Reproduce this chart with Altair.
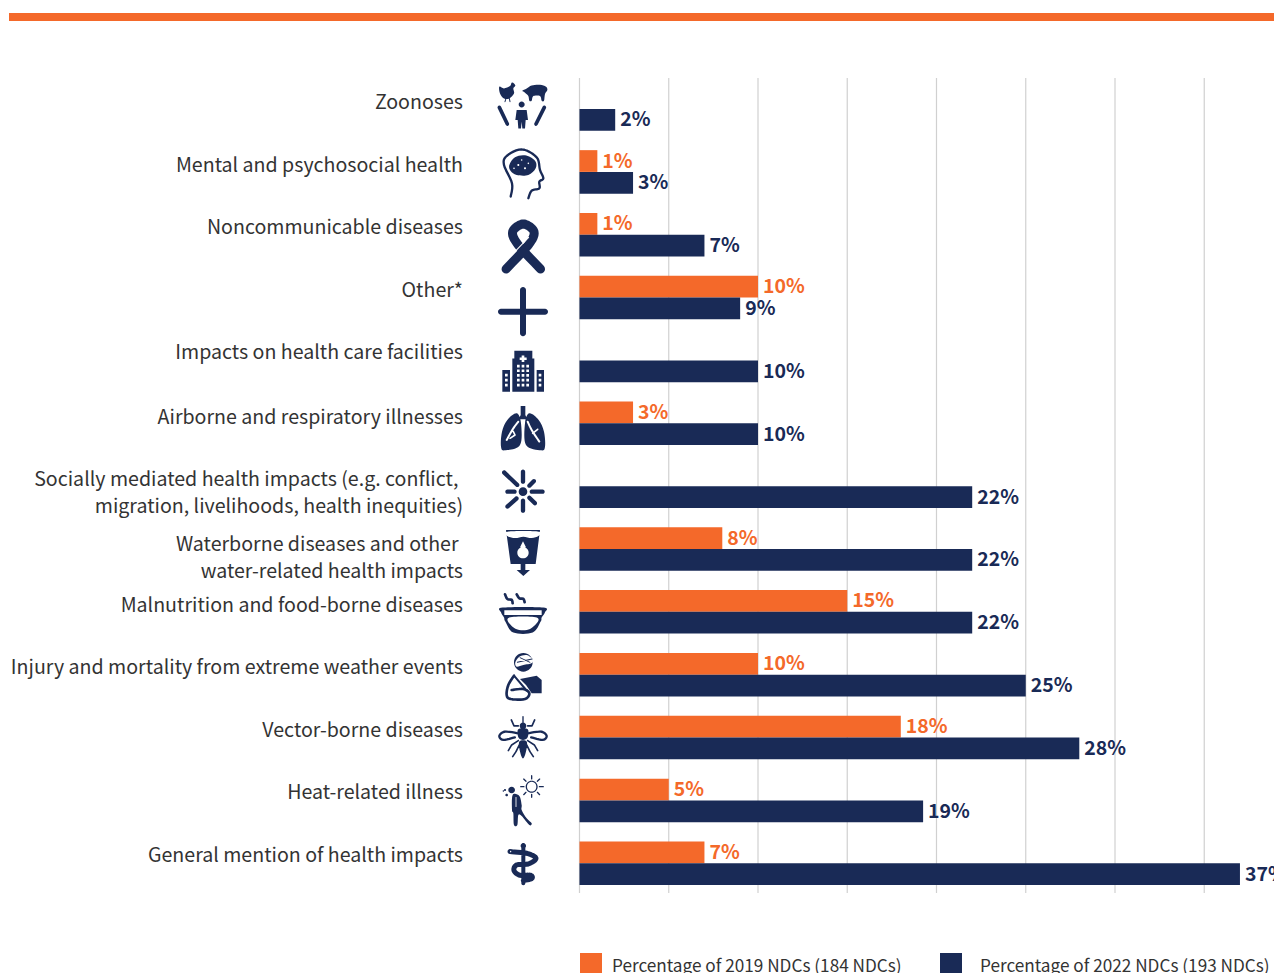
import math
import altair as alt
import pandas as pd

CATEGORIES = [
    "Zoonoses", "Mental and psychosocial health", "Noncommunicable diseases", "Other*",
    "Impacts on health care facilities", "Airborne and respiratory illnesses",
    "Socially mediated health impacts", "Waterborne diseases", "Malnutrition and food-borne diseases",
    "Injury and mortality from extreme weather events", "Vector-borne diseases",
    "Heat-related illness", "General mention of health impacts",
]
LABELS = [
    "Zoonoses", "Mental and psychosocial health", "Noncommunicable diseases", "Other*",
    "Impacts on health care facilities", "Airborne and respiratory illnesses",
    "Socially mediated health impacts (e.g. conflict,\nmigration, livelihoods, health inequities)",
    "Waterborne diseases and other\nwater-related health impacts",
    "Malnutrition and food-borne diseases",
    "Injury and mortality from extreme weather events", "Vector-borne diseases",
    "Heat-related illness", "General mention of health impacts",
]
SERIES = ["Percentage of 2019 NDCs (184 NDCs)", "Percentage of 2022 NDCs (193 NDCs)"]
VALUES_2019 = [None, 1, 1, 10, None, 3, None, 8, 15, 10, 18, 5, 7]
VALUES_2022 = [2, 3, 7, 9, 10, 10, 22, 22, 22, 25, 28, 19.25, 37]
GRID_TICKS = [0, 5, 10, 15, 20, 25, 30, 35]
LABEL_NUDGE = [21.7, 21.85, 21, 21.15, 20.3, 22.45, 21.6, 23.75, 21.9, 21.05, 21.2, 20.35, 20.5]
LEGEND_CHIP_X = [591, 951]
LEGEND_TEXT_X = [612, 980]

ORANGE = "#F4692A"
NAVY = "#192A56"
FONT = "Noto Sans CJK SC"


class Glyph:
    """Builds an icon outline. Points are given in a 3x picture grid."""

    def __init__(self, oy, top):
        self.off = oy - top
        self.parts = []

    def p(self, pt):
        return (pt[0] / 3 - 33, pt[1] / 3 + self.off)

    def circle(self, x, y, r):
        x, y = self.p((x, y))
        r = r / 3
        self.parts.append(f"M{x-r:.2f},{y:.2f}A{r:.2f},{r:.2f} 0 1 0 {x+r:.2f},{y:.2f}A{r:.2f},{r:.2f} 0 1 0 {x-r:.2f},{y:.2f}Z")
        return self

    def _cap(self, a, b, r):
        dx, dy = b[0] - a[0], b[1] - a[1]
        ln = math.hypot(dx, dy) or 1
        nx, ny = -dy / ln * r, dx / ln * r
        self.parts.append(
            f"M{a[0]+nx:.2f},{a[1]+ny:.2f}L{b[0]+nx:.2f},{b[1]+ny:.2f}"
            f"A{r:.2f},{r:.2f} 0 0 0 {b[0]-nx:.2f},{b[1]-ny:.2f}"
            f"L{a[0]-nx:.2f},{a[1]-ny:.2f}A{r:.2f},{r:.2f} 0 0 0 {a[0]+nx:.2f},{a[1]+ny:.2f}Z"
        )

    def line(self, pts, w, smooth=True):
        q = [self.p(t) for t in pts]
        r = w / 6
        if smooth and len(q) > 2:
            dense = []
            ext = [q[0]] + q + [q[-1]]
            for i in range(1, len(ext) - 2):
                p0, p1, p2, p3 = ext[i - 1], ext[i], ext[i + 1], ext[i + 2]
                for k in range(6):
                    t = k / 6
                    dense.append(tuple(
                        0.5 * (2 * p1[j] + (p2[j] - p0[j]) * t
                               + (2 * p0[j] - 5 * p1[j] + 4 * p2[j] - p3[j]) * t * t
                               + (3 * p1[j] - p0[j] - 3 * p2[j] + p3[j]) * t ** 3)
                        for j in (0, 1)))
            dense.append(q[-1])
            q = dense
        for a, b in zip(q, q[1:]):
            self._cap(a, b, r)
        return self

    def _ccw(self, q):
        area = sum(a[0] * b[1] - b[0] * a[1] for a, b in zip(q, q[1:] + q[:1]))
        return q[::-1] if area > 0 else q

    def poly(self, pts):
        q = self._ccw([self.p(t) for t in pts])
        self.parts.append("M" + "L".join(f"{x:.2f},{y:.2f}" for x, y in q) + "Z")
        return self

    def blob(self, pts):
        q = self._ccw([self.p(t) for t in pts])
        n = len(q)
        d = f"M{q[0][0]:.2f},{q[0][1]:.2f}"
        for i in range(n):
            p0, p1, p2, p3 = q[i - 1], q[i], q[(i + 1) % n], q[(i + 2) % n]
            c1 = (p1[0] + (p2[0] - p0[0]) / 6, p1[1] + (p2[1] - p0[1]) / 6)
            c2 = (p2[0] - (p3[0] - p1[0]) / 6, p2[1] - (p3[1] - p1[1]) / 6)
            d += f"C{c1[0]:.2f},{c1[1]:.2f} {c2[0]:.2f},{c2[1]:.2f} {p2[0]:.2f},{p2[1]:.2f}"
        self.parts.append(d + "Z")
        return self

    def rect(self, x0, y0, x1, y1):
        return self.poly([(x0, y0), (x1, y0), (x1, y1), (x0, y1)])

    def __str__(self):
        return "".join(self.parts) or "M0,0Z"


def mirror(pts, c=99):
    return [(2 * c - x, y) for x, y in pts]


# Rows: oy is the top of the 3x picture grid, top is the row's middle as drawn.
zoo = (Glyph(70, 109)
       .blob([(28, 50), (42, 55), (60, 48), (65, 38), (72, 40), (76, 47), (70, 55), (72, 70), (58, 85), (42, 85), (30, 70)])
       .line([(48, 85), (45, 95)], 3, False).line([(58, 85), (60, 95)], 3, False)
       .blob([(97, 62), (110, 55), (125, 46), (150, 44), (168, 50), (172, 60), (165, 72), (162, 92), (155, 92), (150, 78),
              (130, 78), (125, 92), (118, 92), (115, 78), (105, 68)])
       .circle(95, 103, 9)
       .poly([(80, 120), (110, 120), (114, 150), (107, 150), (105, 175), (97, 175), (95, 155), (93, 175), (85, 175), (83, 150), (76, 150)])
       .line([(28, 112), (52, 162)], 11, False).line([(163, 112), (138, 162)], 11, False))
head = (Glyph(70, 171.9)
        .line([(62, 380), (66, 340), (42, 285), (50, 258), (95, 238), (140, 262), (150, 300), (160, 325), (148, 335),
               (148, 355), (125, 362), (115, 385)], 7)
        .blob([(58, 285), (75, 262), (105, 256), (135, 272), (137, 295), (115, 315), (80, 315), (62, 303)]))
head_w = (Glyph(70, 171.9).circle(85, 285, 3).circle(105, 295, 3).circle(72, 295, 2.5).circle(115, 280, 2.5).circle(95, 270, 2.5))
ribbon = Glyph(70, 234.7).line([(48, 597), (115, 525), (132, 485), (100, 462), (68, 485), (85, 525), (152, 597)], 27)
ribbon_w = Glyph(70, 234.7).line([(72, 548), (116, 502)], 3, False)
plus = Glyph(70, 297.6).line([(99, 660), (99, 790)], 18, False).line([(33, 725), (165, 725)], 18, False)

hosp = Glyph(340, 360.4).rect(67, 55, 133, 155).rect(73, 32, 127, 55).rect(37, 90, 60, 155).rect(140, 90, 162, 155)
hosp_w = Glyph(340, 360.4).rect(95, 46, 103, 66).rect(89, 52, 110, 60)
for wy in (78, 92, 106, 120, 135):
    for wx in (85, 99, 113):
        hosp_w.rect(wx - 4, wy - 4, wx + 4, wy + 4)
for wy in (105, 120, 135):
    for wx in (49, 150):
        hosp_w.rect(wx - 4, wy - 4, wx + 4, wy + 4)
lung_l = [(80, 220), (52, 240), (36, 275), (33, 320), (45, 331), (90, 315), (93, 250)]
lungs = (Glyph(340, 423.3).blob(lung_l).blob(mirror(lung_l))
         .poly([(92, 198), (106, 198), (106, 225), (112, 238), (86, 238), (92, 225)]))
lungs_w = (Glyph(340, 423.3).line([(85, 245), (70, 265), (50, 300)], 6).line([(70, 275), (75, 285), (60, 295)], 5, False)
           .line([(113, 245), (125, 270), (148, 305)], 6).line([(128, 280), (143, 268)], 5, False))
burst = (Glyph(340, 486.15).circle(99, 455, 13)
         .line([(42, 397), (82, 435)], 13, False).line([(99, 395), (99, 425)], 13, False)
         .line([(118, 437), (132, 423)], 13, False).line([(52, 455), (74, 455)], 13, False)
         .line([(125, 455), (158, 455)], 13, False).line([(52, 500), (80, 475)], 13, False)
         .line([(99, 482), (99, 512)], 13, False).line([(118, 473), (135, 490)], 13, False))
water = (Glyph(340, 549).poly([(48, 570), (150, 570), (137, 672), (62, 672)])
         .rect(92, 672, 106, 692).poly([(80, 690), (120, 690), (100, 708)]))
water_w = (Glyph(340, 549).blob([(53, 575), (146, 575), (145, 588), (125, 594), (100, 590), (75, 594), (52, 588)])
           .poly([(99, 604), (108, 622), (90, 622)]).circle(99, 638, 17))

bowl = (Glyph(585, 611.9).line([(45, 28), (52, 42), (65, 45), (68, 55)], 8).line([(80, 28), (88, 40), (100, 42), (104, 52)], 8)
        .blob([(38, 68), (160, 68), (165, 82), (155, 98), (152, 110), (128, 143), (70, 143), (46, 110), (42, 98), (33, 82)]))
bowl_w = (Glyph(585, 611.9).rect(43, 76, 155, 90)
          .blob([(55, 99), (143, 99), (120, 132), (78, 132)]))
hurt = (Glyph(585, 674.7).circle(100, 232, 28)
        .poly([(90, 282), (140, 272), (155, 285), (155, 325), (125, 325), (108, 300)])
        .line([(72, 272), (55, 300), (50, 330), (62, 342), (105, 342), (118, 325), (100, 312), (65, 315)], 8)
        .line([(72, 272), (106, 312)], 6, False))
hurt_w = Glyph(585, 674.7).blob([(76, 232), (88, 215), (110, 210), (127, 222), (126, 234), (100, 240), (80, 245)])
hurt_top = Glyph(585, 674.7).line([(82, 232), (126, 222)], 3, False).line([(90, 218), (120, 232)], 2.5, False)
wing = [(85, 70), (45, 65), (28, 78), (40, 90), (75, 82)]
leg_sets = [[(85, 48), (72, 48), (64, 30)], [(85, 92), (65, 105), (55, 122)], [(88, 105), (78, 125), (68, 140)]]
mosq = (Glyph(710, 737.6).circle(99, 48, 10).line([(99, 20), (99, 40)], 4, False)
        .blob([(85, 58), (113, 58), (113, 82), (99, 90), (85, 82)])
        .blob([(88, 95), (110, 95), (108, 125), (99, 146), (90, 125)])
        .line(wing, 7).line(mirror(wing), 7))
for leg in leg_sets:
    mosq.line(leg, 5, False).line(mirror(leg), 5, False)
heat = (Glyph(710, 800.4).circle(125, 230, 18).circle(65, 240, 10)
        .blob([(68, 255), (88, 258), (95, 285), (95, 300), (110, 325), (125, 340), (118, 345), (95, 318), (85, 315),
               (82, 345), (72, 345), (70, 310), (66, 300)])
        .circle(45, 240, 3).circle(50, 255, 4).circle(40, 243, 2))
for a, b in [((125, 197), (125, 207)), ((125, 253), (125, 262)), ((92, 230), (102, 230)), ((148, 230), (160, 230)),
             ((101, 207), (108, 214)), ((142, 247), (149, 254)), ((149, 207), (142, 214)), ((101, 254), (108, 247))]:
    heat.line([a, b], 4, False)
heat_w = Glyph(710, 800.4).circle(125, 230, 14).line([(78, 262), (78, 290)], 2.5, False)
snake = (Glyph(640, 863.3).circle(100, 618, 8).line([(100, 620), (100, 730)], 12, False)
         .line([(60, 635), (110, 640), (138, 655), (115, 672), (80, 675), (72, 692), (90, 706), (122, 706), (125, 716), (100, 722)], 15))
snake_w = Glyph(640, 863.3).circle(62, 635, 2)
none = Glyph(0, 0)

ICON_INK = [zoo, head, ribbon, plus, hosp, lungs, burst, water, bowl, hurt, mosq, heat, snake]
ICON_HOLES = [none, head_w, ribbon_w, none, hosp_w, lungs_w, none, water_w, bowl_w, hurt_w, none, heat_w, snake_w]
ICON_TOP = [none, none, none, none, none, none, none, none, none, hurt_top, none, none, none]

# The page fits the drawing into 1266px, so the plot stops there
LEFT = 571.5
ORIGIN_X, ORIGIN_Y = 579.5, 78
W, H = 1266 - LEFT, 815
x_scale = alt.Scale(domain=[0, W / 17.85], nice=False, zero=False)
y_scale = alt.Scale(domain=CATEGORIES, range=[9.3, 807], paddingInner=0.308, paddingOuter=0)

rows = []
for c, a, b in zip(CATEGORIES, VALUES_2019, VALUES_2022):
    if a is not None:
        rows.append({"cat": c, "series": SERIES[0], "value": a, "txt": f"{round(a)}%"})
    rows.append({"cat": c, "series": SERIES[1], "value": b, "txt": f"{round(b)}%"})
bars_df = pd.DataFrame(rows)
cat_df = pd.DataFrame({"cat": CATEGORIES})

# A two-line label's first line stops short of the common right edge
flush, short = [], []
for c, label, nudge in zip(CATEGORIES, LABELS, LABEL_NUDGE):
    parts = label.split("\n")
    if len(parts) == 2:
        short.append({"cat": c, "label": parts[0], "nudge": nudge})
        flush.append({"cat": c, "label": parts[1], "nudge": nudge + 27})
    else:
        flush.append({"cat": c, "label": label, "nudge": nudge})

y_enc = alt.Y("cat:N", sort=CATEGORIES, scale=y_scale, axis=None)
y_off = alt.YOffset("series:N", sort=SERIES, scale=alt.Scale(domain=SERIES, paddingInner=0, paddingOuter=0))
color_scale = alt.Scale(domain=SERIES, range=[ORANGE, NAVY])

top_band = alt.Chart(pd.DataFrame({"k": [0]})).mark_rect(color=ORANGE).encode(
    x=alt.value(9 - ORIGIN_X), x2=alt.value(W), y=alt.value(13 - ORIGIN_Y), y2=alt.value(21 - ORIGIN_Y))

grid = alt.Chart(pd.DataFrame({"tick": GRID_TICKS})).mark_rule(color="#d0d0d0", strokeWidth=1.2).encode(
    x=alt.X("tick:Q", scale=x_scale, axis=None), y=alt.value(0), y2=alt.value(H))

bars = alt.Chart(bars_df).mark_bar(cornerRadius=0).encode(
    x=alt.X("value:Q", scale=x_scale, axis=None),
    y=y_enc, yOffset=y_off,
    color=alt.Color("series:N", scale=color_scale, legend=None),
)

value_text = alt.Chart(bars_df).mark_text(
    align="left", baseline="middle", dx=5, dy=0.5, font=FONT, fontSize=19.5, fontWeight=700
).encode(
    x=alt.X("value:Q", scale=x_scale, axis=None), y=y_enc, yOffset=y_off, text="txt:N",
    color=alt.Color("series:N", scale=color_scale, legend=None),
)


def label_layer(rows_, dx):
    return alt.Chart(pd.DataFrame(rows_)).mark_text(
        align="right", baseline="alphabetic", font=FONT, fontSize=19.6, color="#333333", dx=dx
    ).encode(
        x=alt.value(463 - ORIGIN_X), y=y_enc, yOffset=alt.YOffset("nudge:Q", scale=None), text="label:N",
    )


def icon_layer(paths, color):
    return alt.Chart(cat_df).mark_point(filled=True, opacity=1, color=color, strokeWidth=0).encode(
        x=alt.value(-56.5), y=y_enc, size=alt.value(4),
        shape=alt.Shape("cat:N", scale=alt.Scale(domain=CATEGORIES, range=[str(g) for g in paths]), legend=None),
    )


key_layers = []
for name, chip_x, text_x in zip(SERIES, LEGEND_CHIP_X, LEGEND_TEXT_X):
    one = pd.DataFrame({"series": [name]})
    key_layers.append(alt.Chart(one).mark_square(size=484, opacity=1, strokeWidth=0).encode(
        x=alt.value(chip_x - ORIGIN_X), y=alt.value(964 - ORIGIN_Y),
        color=alt.Color("series:N", scale=color_scale, legend=None)))
    key_layers.append(alt.Chart(one).mark_text(
        align="left", baseline="alphabetic", font=FONT, fontSize=17.2, color="#333333"
    ).encode(x=alt.value(text_x - ORIGIN_X), y=alt.value(971.5 - ORIGIN_Y), text="series:N"))

chart = alt.layer(
    top_band, grid, bars, value_text, label_layer(flush, 0), label_layer(short, -4.5),
    icon_layer(ICON_INK, NAVY), icon_layer(ICON_HOLES, "#ffffff"), icon_layer(ICON_TOP, NAVY),
    *key_layers,
).resolve_scale(shape="independent").properties(
    width=W, height=H,
    padding={"left": LEFT, "top": 70, "right": 0, "bottom": 80},
    autosize=alt.AutoSizeParams(type="none"),
    background="#ffffff",
).configure_view(stroke=None)

chart.save("out.html", embed_options={"renderer": "svg", "actions": False})
